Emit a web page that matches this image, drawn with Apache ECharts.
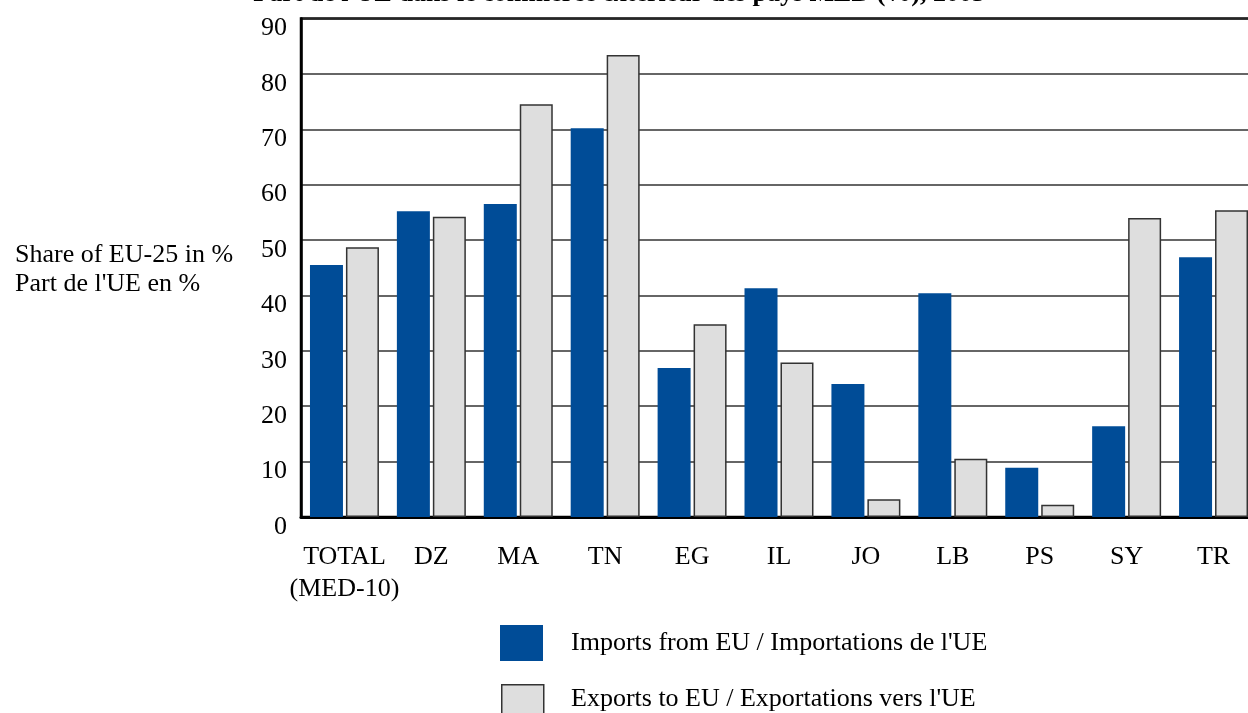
<!DOCTYPE html>
<html>
<head>
<meta charset="utf-8">
<script src="https://cdn.jsdelivr.net/npm/echarts@6/dist/echarts.min.js"></script>
<style>
	html, body { margin: 0; padding: 0; background: #fff; }
	#chart { width: 1248px; height: 713px; }
</style>
</head>
<body>
<div id="chart"></div>
<script>
	// pays MED
	var categories = ['TOTAL\n(MED-10)', 'DZ', 'MA', 'TN', 'EG', 'IL', 'JO', 'LB', 'PS', 'SY', 'TR'];
	var importsFromEU = [45.5, 55.2, 56.5, 70.2, 26.9, 41.3, 24.0, 40.4, 8.9, 16.4, 46.9];
	var exportsToEU = [48.7, 54.2, 74.5, 83.4, 34.8, 27.9, 3.2, 10.5, 2.2, 54.0, 55.4];
	var seriesNames = ['Imports from EU / Importations de l\'UE', 'Exports to EU / Exportations vers l\'UE'];
	var yLabelLines = ['Share of EU-25 in %', 'Part de l\'UE en %'];

	var font = '"Liberation Serif", "Times New Roman", serif';
	var blue = '#004C97';
	var grey = '#DEDEDE';
	var myChart = echarts.init(document.getElementById('chart'));
	myChart.setOption({
		animation: false,
		textStyle: { fontFamily: font },
		grid: {
			left: 301,
			top: 18.5,
			bottom: 196,
			width: 956,
			outerBoundsMode: 'none',
			show: true,
			borderColor: '#000',
			borderWidth: 2.5
		},
		graphic: [
			{
				// titre coupé en haut
				type: 'text', right: 263, top: -19,
				style: {
					text: 'Part de l\'UE dans le commerce extérieur des pays MED (%), 2005',
					font: 'bold 26px ' + font, fill: '#000'
				}
			},
			{
				type: 'text', left: 15, top: 242,
				style: { text: yLabelLines[0], font: '26px ' + font, fill: '#000' }
			},
			{
				type: 'text', left: 15, top: 271,
				style: { text: yLabelLines[1], font: '26px ' + font, fill: '#000' }
			},
			/* légende */
			{
				type: 'rect', left: 500, top: 625,
				shape: { width: 43, height: 36 },
				style: { fill: blue }
			},
			{
				type: 'text', left: 571, top: 630,
				style: { text: seriesNames[0], font: '26px ' + font, fill: '#000' }
			},
			{
				type: 'rect', left: 501, top: 684,
				shape: { width: 42, height: 36 },
				style: { fill: grey, stroke: '#333', lineWidth: 1.5 }
			},
			{
				type: 'text', left: 571, top: 686,
				style: { text: seriesNames[1], font: '26px ' + font, fill: '#000' }
			}
		],
		xAxis: {
			type: 'category',
			data: categories,
			axisLine: { lineStyle: { color: '#000', width: 3 } },
			axisTick: { inside: true, length: 8, lineStyle: { color: '#000', width: 2.5 } },
			axisLabel: { fontSize: 26, color: '#000', fontFamily: font, margin: 24, lineHeight: 32, interval: 0 }
		},
		yAxis: {
			type: 'value',
			min: 0,
			max: 90,
			interval: 10,
			axisLine: { show: true, lineStyle: { color: '#000', width: 2.5 } },
			axisTick: { show: false },
			axisLabel: {
				color: '#000', margin: 14,
				formatter: '{a|{value}}',
				rich: { a: { fontSize: 26, fontFamily: font, color: '#000', padding: [20, 0, 0, 0] } }
			},
			splitLine: { lineStyle: { color: '#333', width: 1.5 } }
		},
		series: [
			{
				name: seriesNames[0],
				type: 'bar',
				barWidth: 33,
				barGap: '9%',
				itemStyle: { color: blue },
				data: importsFromEU
			},
			{
				name: seriesNames[1],
				type: 'bar',
				barWidth: 33,
				itemStyle: { color: grey, borderColor: '#333', borderWidth: 1.5 },
				data: exportsToEU
			}
		]
	});
</script>
</body>
</html>
